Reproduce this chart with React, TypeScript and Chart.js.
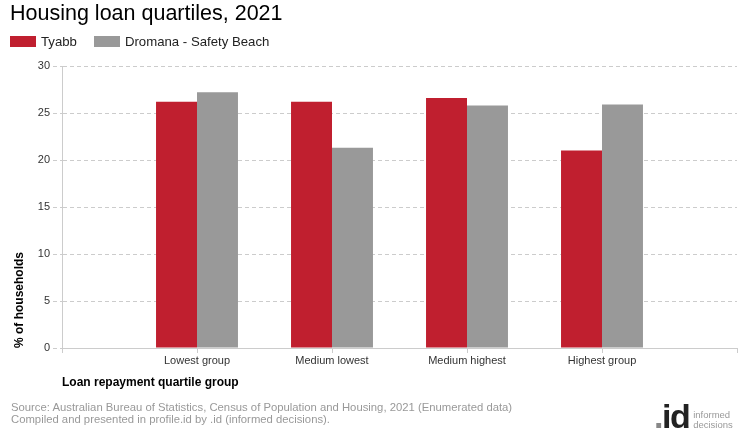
import React, { useEffect, useRef } from 'react';
import { Chart, registerables } from 'chart.js';

Chart.register(...registerables);

const categories = ['', 'Lowest group', 'Medium lowest', 'Medium highest', 'Highest group', ''];
const tyabbValues = [null, 26.2, 26.2, 26.6, 21.0, null];
const dromanaValues = [null, 27.2, 21.3, 25.8, 25.9, null];
const seriesNames = ['Tyabb', 'Dromana - Safety Beach'];
const seriesColors = ['#C01F2F', '#999999'];

const FONT = '"Liberation Sans", Arial, sans-serif';

export default function App() {
  const canvasRef = useRef<HTMLCanvasElement | null>(null);

  useEffect(() => {
    const canvas = canvasRef.current;
    if (!canvas) return;
    const chart = new Chart(canvas, {
      type: 'bar',
      data: {
        labels: categories,
        datasets: [
          {
            label: seriesNames[0],
            data: tyabbValues,
            backgroundColor: seriesColors[0],
            borderWidth: 0,
            categoryPercentage: 0.607,
            barPercentage: 1,
          },
          {
            label: seriesNames[1],
            data: dromanaValues,
            backgroundColor: seriesColors[1],
            borderWidth: 0,
            categoryPercentage: 0.607,
            barPercentage: 1,
          },
        ],
      },
      options: {
        responsive: false,
        animation: false,
        layout: { padding: { top: 66, right: 3, left: 6, bottom: 50 } },
        plugins: {
          legend: { display: false },
          title: { display: false },
          tooltip: { enabled: false },
        },
        scales: {
          x: {
            offset: false,
            grid: {
              offset: false,
              display: true,
              drawOnChartArea: false,
              drawTicks: true,
              tickLength: 5,
              color: '#cccccc',
            },
            border: { display: true, color: '#cccccc', width: 1 },
            ticks: {
              padding: 1,
              color: '#333333',
              font: { family: FONT, size: 11 },
              maxRotation: 0,
              autoSkip: false,
            },
            title: {
              display: true,
              text: 'Loan repayment quartile group',
              align: 'start',
              color: '#000000',
              font: { family: FONT, size: 12, weight: 'bold' },
              padding: 0,
            },
            afterFit: (s: any) => {
              s.height = 42;
            },
          },
          y: {
            min: 0,
            max: 30,
            ticks: {
              stepSize: 5,
              padding: 3,
              color: '#333333',
              font: { family: FONT, size: 11 },
            },
            grid: {
              color: '#cccccc',
              tickLength: 9,
              tickColor: '#cccccc',
              tickBorderDash: [4, 3],
            },
            border: { display: true, color: '#cccccc', width: 1, dash: [4, 3] },
            title: {
              display: true,
              text: '% of households',
              align: 'start',
              color: '#000000',
              font: { family: FONT, size: 12, weight: 'bold' },
              padding: { top: 6, bottom: 0 },
            },
            afterFit: (s: any) => {
              s.width = 56;
            },
          },
        },
      } as any,
    });
    return () => chart.destroy();
  }, []);

  return (
    <div
      style={{
        position: 'absolute',
        left: 0,
        top: 0,
        width: 740,
        height: 440,
        background: '#ffffff',
        fontFamily: FONT,
        overflow: 'hidden',
      }}
    >
      <canvas
        ref={canvasRef}
        width={740}
        height={440}
        style={{ position: 'absolute', left: 0, top: 0, width: 740, height: 440 }}
      />
      <div
        style={{
          position: 'absolute',
          left: 10,
          top: 1,
          fontSize: 21.5,
          color: '#000',
          lineHeight: '24px',
          whiteSpace: 'nowrap',
        }}
      >
        Housing loan quartiles, 2021
      </div>
      <div
        style={{
          position: 'absolute',
          left: 10,
          top: 33,
          height: 16,
          display: 'flex',
          alignItems: 'center',
          fontSize: 13.2,
          color: '#222',
          whiteSpace: 'nowrap',
        }}
      >
        {seriesNames.map((n, i) => (
          <span key={n} style={{ display: 'flex', alignItems: 'center', marginRight: i === 0 ? 17 : 0 }}>
            <span
              style={{
                display: 'inline-block',
                width: 26,
                height: 11,
                background: seriesColors[i],
                marginRight: 5,
              }}
            />
            <span>{n}</span>
          </span>
        ))}
      </div>
      <div
        style={{
          position: 'absolute',
          left: 11,
          top: 401,
          fontSize: 11.3,
          lineHeight: '12px',
          color: '#999999',
          whiteSpace: 'nowrap',
        }}
      >
        <div>Source: Australian Bureau of Statistics, Census of Population and Housing, 2021 (Enumerated data)</div>
        <div>Compiled and presented in profile.id by .id (informed decisions).</div>
      </div>
      <div
        style={{
          position: 'absolute',
          left: 654,
          top: 400,
          display: 'flex',
          alignItems: 'flex-end',
          whiteSpace: 'nowrap',
        }}
      >
        <span style={{ fontSize: 34, fontWeight: 'bold', lineHeight: '32px', color: '#222', letterSpacing: -1.5 }}>
          <span style={{ color: '#888' }}>.</span>id
        </span>
        <span style={{ fontSize: 9.5, lineHeight: '10px', color: '#999', marginLeft: 4, marginBottom: 2 }}>
          informed
          <br />
          decisions
        </span>
      </div>
    </div>
  );
}
